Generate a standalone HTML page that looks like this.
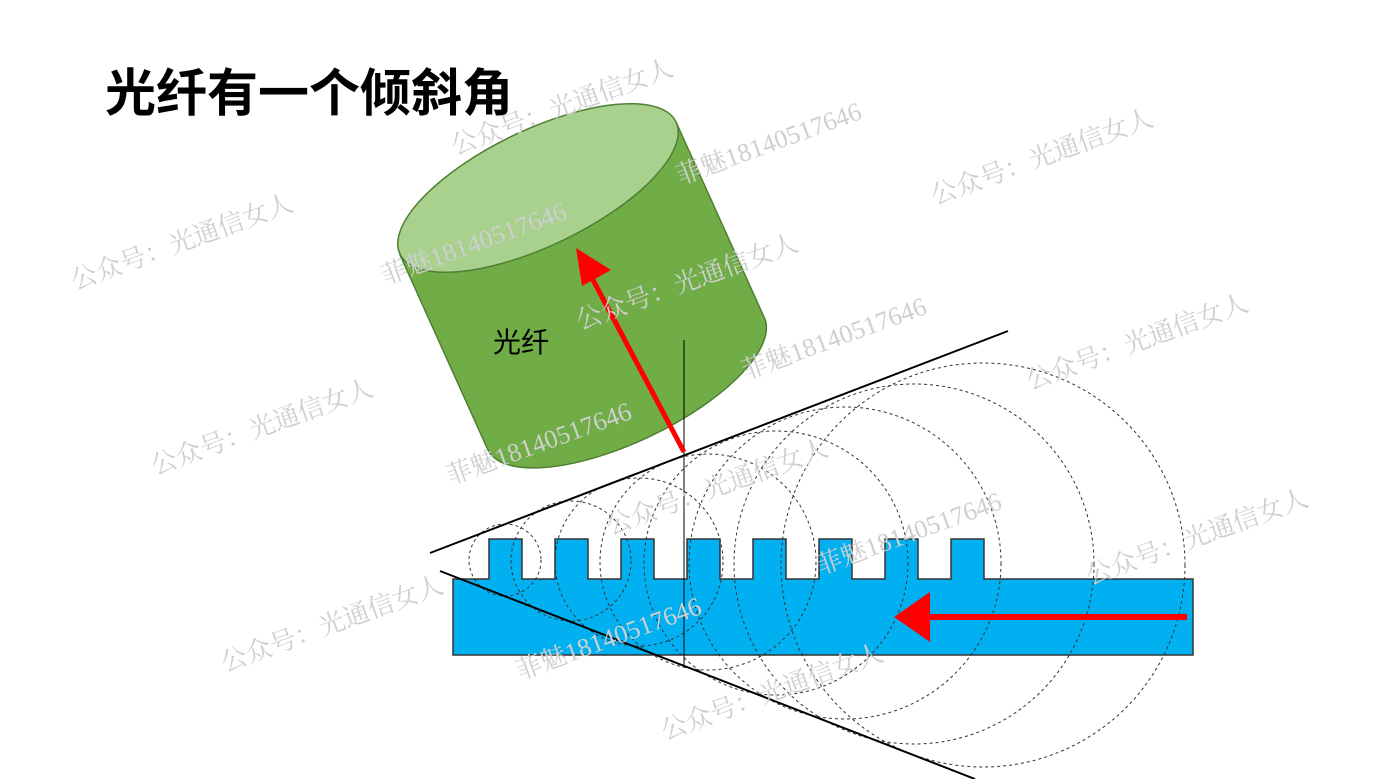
<!DOCTYPE html>
<html><head><meta charset="utf-8"><style>
html,body{margin:0;padding:0;background:#fff;}
svg{display:block;}
</style></head><body>
<svg width="1384" height="779" viewBox="0 0 1384 779" xmlns="http://www.w3.org/2000/svg" font-family="Liberation Sans, Noto Sans CJK SC, sans-serif">
<rect width="1384" height="779" fill="#fff"/>
<text x="105" y="111" font-size="51" font-weight="bold" fill="#000">光纤有一个倾斜角</text>

<!-- cylinder -->
<path d="M400,255 L488,450 A153,58 -25.6 0 0 764,317 L676,122 Z" fill="#70ad47" stroke="#507e32" stroke-width="1.5"/>
<ellipse cx="538" cy="188" rx="153" ry="58" transform="rotate(-25.6 538 188)" fill="#a9d18e" stroke="#507e32" stroke-width="1.5"/>
<text x="493" y="352" font-size="28" fill="#000">光纤</text>

<!-- grating -->
<path d="M453,579 L489,579 L489,539 L522,539 L522,579 L555,579 L555,539 L588,539 L588,579 L621,579 L621,539 L654,539 L654,579 L687,579 L687,539 L720,539 L720,579 L753,579 L753,539 L786,539 L786,579 L819,579 L819,539 L852,539 L852,579 L885,579 L885,539 L918,539 L918,579 L951,579 L951,539 L984,539 L984,579 L1193,579 L1193,655 L453,655 Z" fill="#00b0f0" stroke="#333" stroke-width="1.5"/>

<!-- dashed circles -->
<g fill="none" stroke="#333" stroke-width="1" stroke-dasharray="3,3">
<circle cx="505" cy="560" r="36"/>
<circle cx="571" cy="561" r="60"/>
<circle cx="639" cy="562" r="84"/>
<circle cx="708" cy="562" r="108"/>
<circle cx="776" cy="563" r="132"/>
<circle cx="845" cy="563" r="156"/>
<circle cx="914" cy="564" r="180"/>
<circle cx="983" cy="565" r="202"/>
</g>

<!-- cone lines -->
<line x1="430" y1="553" x2="1008" y2="331" stroke="#000" stroke-width="2"/>
<line x1="440" y1="571" x2="975" y2="779" stroke="#000" stroke-width="2"/>
<line x1="684" y1="340" x2="684" y2="665" stroke="#000" stroke-width="1"/>

<!-- red arrows -->
<line x1="684" y1="452" x2="592" y2="278" stroke="#f00" stroke-width="5"/>
<polygon points="576,248 611,270 582,286" fill="#f00"/>
<line x1="1187" y1="617" x2="925" y2="617" stroke="#f00" stroke-width="6"/>
<polygon points="894,617 930,592 930,642" fill="#f00"/>

<!-- watermarks -->
<g fill="#cfcfcf" font-size="26" font-family="Liberation Serif, Noto Serif CJK SC, serif">
<text transform="translate(455,155) rotate(-20)">公众号：光通信女人</text>
<text transform="translate(680,185) rotate(-20)">菲魅18140517646</text>
<text transform="translate(935,205) rotate(-20)">公众号：光通信女人</text>
<text transform="translate(75,290) rotate(-20)">公众号：光通信女人</text>
<text transform="translate(385,285) rotate(-20)">菲魅18140517646</text>
<text transform="translate(580,330) rotate(-20)">公众号：光通信女人</text>
<text transform="translate(745,380) rotate(-20)">菲魅18140517646</text>
<text transform="translate(1030,390) rotate(-20)">公众号：光通信女人</text>
<text transform="translate(155,475) rotate(-20)">公众号：光通信女人</text>
<text transform="translate(450,485) rotate(-20)">菲魅18140517646</text>
<text transform="translate(610,535) rotate(-20)">公众号：光通信女人</text>
<text transform="translate(820,575) rotate(-20)">菲魅18140517646</text>
<text transform="translate(1090,585) rotate(-20)">公众号：光通信女人</text>
<text transform="translate(225,672) rotate(-20)">公众号：光通信女人</text>
<text transform="translate(520,680) rotate(-20)">菲魅18140517646</text>
<text transform="translate(665,740) rotate(-20)">公众号：光通信女人</text>
</g>
</svg>
</body></html>
